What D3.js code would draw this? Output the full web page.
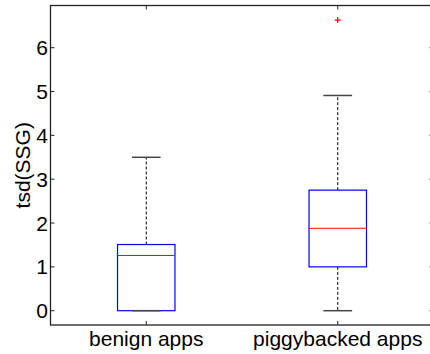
<!DOCTYPE html>
<html>
<head>
<meta charset="utf-8">
<script src="https://cdn.jsdelivr.net/npm/d3@7"></script>
<style>
  body { margin: 0; background: #fff; }
  text { font-family: "Liberation Sans", Arial, sans-serif; }
</style>
</head>
<body>
<svg id="chart" width="430" height="354"></svg>
<script>
// box plot data
var categories = ["benign apps", "piggybacked apps"];
var lowWhisker = [0, 0];
var q1 = [0, 1.0];
var medians = [1.26, 1.88];
var q3 = [1.51, 2.75];
var highWhisker = [3.5, 4.91];
var outliers = [[], [6.63]];
var yTicks = [0, 1, 2, 3, 4, 5, 6];

var svg = d3.select("#chart");
// plot frame (right side runs a little past the image edge)
var plotL = 50.5, plotR = 433.5, plotT = 5.5, plotB = 325;

var x = d3.scaleLinear().domain([0.5, 2.5]).range([plotL, plotR]);
var y = d3.scaleLinear().domain([0, 6]).range([310.7, 47.7]);

var boxW = 0.3, capW = 0.15;

// frame
svg.append("rect")
  .attr("x", plotL).attr("y", plotT)
  .attr("width", plotR - plotL).attr("height", plotB - plotT)
  .attr("fill", "none").attr("stroke", "#222").attr("stroke-width", 1.3);

// y ticks (inward, both sides)
yTicks.forEach(function(t) {
  svg.append("line").attr("x1", plotL).attr("x2", plotL + 4)
    .attr("y1", y(t)).attr("y2", y(t)).attr("stroke", "#222");
  svg.append("line").attr("x1", plotR).attr("x2", plotR - 4)
    .attr("y1", y(t)).attr("y2", y(t)).attr("stroke", "#222");
  svg.append("text").attr("x", 48).attr("y", y(t)).attr("dy", "0.36em")
    .attr("text-anchor", "end").attr("font-size", 21).text(t);
});

// x ticks and labels
categories.forEach(function(c, i) {
  var cx = x(i + 1);
  svg.append("line").attr("x1", cx).attr("x2", cx)
    .attr("y1", plotB).attr("y2", plotB - 4).attr("stroke", "#222");
  svg.append("line").attr("x1", cx).attr("x2", cx)
    .attr("y1", plotT).attr("y2", plotT + 4).attr("stroke", "#222");
  svg.append("text").attr("x", cx).attr("y", 346)
    .attr("text-anchor", "middle").attr("font-size", 21).text(c);
});

// y label
svg.append("text")
  .attr("transform", "translate(30," + ((plotT + plotB) / 2) + ") rotate(-90)")
  .attr("text-anchor", "middle").attr("font-size", 21).text("tsd(SSG)");

// boxes
categories.forEach(function(c, i) {
  var p = i + 1;
  var cx = x(p);
  // whiskers (dashed)
  svg.append("line").attr("x1", cx).attr("x2", cx)
    .attr("y1", y(q3[i])).attr("y2", y(highWhisker[i]))
    .attr("stroke", "#000").attr("stroke-dasharray", "3,2");
  svg.append("line").attr("x1", cx).attr("x2", cx)
    .attr("y1", y(q1[i])).attr("y2", y(lowWhisker[i]))
    .attr("stroke", "#000").attr("stroke-dasharray", "3,2");
  // box
  svg.append("rect")
    .attr("x", x(p - boxW / 2)).attr("y", y(q3[i]))
    .attr("width", x(p + boxW / 2) - x(p - boxW / 2))
    .attr("height", y(q1[i]) - y(q3[i]))
    .attr("fill", "none").attr("stroke", "#0000ff").attr("stroke-width", 1.2);
  // caps
  [lowWhisker[i], highWhisker[i]].forEach(function(v) {
    svg.append("line")
      .attr("x1", x(p - capW / 2)).attr("x2", x(p + capW / 2))
      .attr("y1", y(v)).attr("y2", y(v))
      .attr("stroke", "#444").attr("stroke-width", 1.5);
  });
  // median
  svg.append("line")
    .attr("x1", x(p - boxW / 2)).attr("x2", x(p + boxW / 2))
    .attr("y1", y(medians[i])).attr("y2", y(medians[i]))
    .attr("stroke", "#ff0000").attr("stroke-width", 1);
  // outliers
  outliers[i].forEach(function(v) {
    svg.append("path")
      .attr("d", "M" + (cx - 3) + "," + y(v) + "H" + (cx + 3) +
                 "M" + cx + "," + (y(v) - 3) + "V" + (y(v) + 3))
      .attr("stroke", "#ff0000").attr("stroke-width", 1.2);
  });
});
</script>
</body>
</html>
